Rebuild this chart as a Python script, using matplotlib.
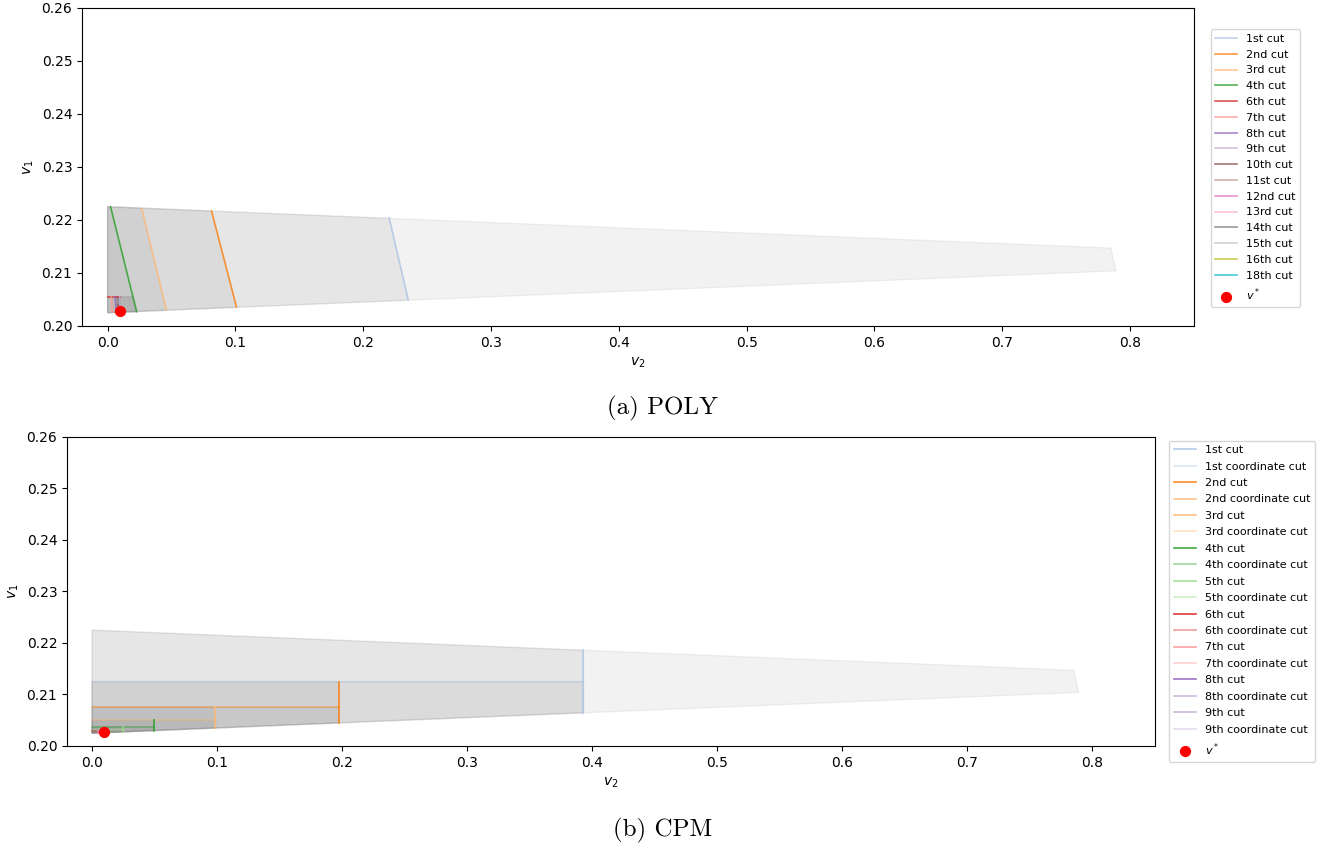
import numpy as np
import matplotlib
matplotlib.use("Agg")
import matplotlib.pyplot as plt

# outer feasible region (same in both panels)
outer_x = [0.0, 0.785, 0.789, 0.0]
outer_y = [0.2225, 0.2147, 0.2104, 0.2025]

v_star = (0.0096, 0.2028)

# POLY cuts: label, segment end points, tab20 index
poly_labels = ["1st cut", "2nd cut", "3rd cut", "4th cut", "6th cut", "7th cut",
               "8th cut", "9th cut", "10th cut", "11st cut", "12nd cut", "13rd cut",
               "14th cut", "15th cut", "16th cut", "18th cut"]
poly_color = [1, 2, 3, 4, 6, 7, 8, 9, 10, 11, 12, 13, 14, 15, 16, 18]
poly_x0 = [0.2203, 0.0813, 0.0266, 0.0023, 0.0, 0.0030, 0.0060, 0.0094,
           0.0080, 0.0085, 0.0100, 0.0088, 0.0092, 0.0105, 0.0098, 0.0095]
poly_y0 = [0.2204, 0.2217, 0.2222, 0.2225, 0.2055, 0.2055, 0.2055, 0.2055,
           0.2040, 0.2036, 0.2035, 0.2033, 0.2032, 0.2031, 0.2030, 0.2029]
poly_x1 = [0.2352, 0.1008, 0.0460, 0.0227, 0.0095, 0.0036, 0.0066, 0.0097,
           0.0086, 0.0090, 0.0104, 0.0092, 0.0095, 0.0107, 0.0100, 0.0097]
poly_y1 = [0.2049, 0.2036, 0.2030, 0.2027, 0.2055, 0.2026, 0.2027, 0.2027,
           0.2027, 0.2027, 0.2027, 0.2027, 0.2027, 0.2027, 0.2027, 0.2027]

# CPM cuts (cut / coordinate cut pairs)
cpm_labels = ["1st cut", "1st coordinate cut", "2nd cut", "2nd coordinate cut",
              "3rd cut", "3rd coordinate cut", "4th cut", "4th coordinate cut",
              "5th cut", "5th coordinate cut", "6th cut", "6th coordinate cut",
              "7th cut", "7th coordinate cut", "8th cut", "8th coordinate cut",
              "9th cut", "9th coordinate cut"]
cpm_color = [1, 1, 2, 2, 3, 3, 4, 4, 5, 5, 6, 6, 7, 7, 8, 8, 9, 9]
cpm_x0 = [0.393, 0.0, 0.1975, 0.0, 0.0987, 0.0, 0.0494, 0.0, 0.0247, 0.0,
          0.0123, 0.0, 0.0050, 0.0050, 0.0110, 0.0050, 0.0085, 0.0085]
cpm_y0 = [0.2186, 0.2125, 0.2125, 0.2075, 0.2075, 0.2050, 0.2050, 0.2037,
          0.2037, 0.2031, 0.2031, 0.2029, 0.2029, 0.2028, 0.2028, 0.20275,
          0.20275, 0.20272]
cpm_x1 = [0.393, 0.393, 0.1975, 0.1975, 0.0987, 0.0987, 0.0494, 0.0494,
          0.0247, 0.0247, 0.0123, 0.0123, 0.0050, 0.0110, 0.0110, 0.0110,
          0.0085, 0.0110]
cpm_y1 = [0.2065, 0.2125, 0.2045, 0.2075, 0.2035, 0.2050, 0.2030, 0.2037,
          0.20275, 0.2031, 0.20262, 0.2029, 0.20255, 0.2028, 0.20262, 0.20275,
          0.20259, 0.20272]
cpm_alpha = [0.9, 0.45] * 9


def clip(px, py, x0, y0, x1, y1, keep):
    # keep the side of the line (x0,y0)-(x1,y1) that contains point keep
    def side(x, y):
        return (x1 - x0) * (y - y0) - (y1 - y0) * (x - x0)
    s_ref = np.sign(side(*keep))
    out_x, out_y = [], []
    n = len(px)
    for i in range(n):
        ax_, ay_ = px[i], py[i]
        bx, by = px[(i + 1) % n], py[(i + 1) % n]
        sa, sb = side(ax_, ay_) * s_ref, side(bx, by) * s_ref
        if sa >= 0:
            out_x.append(ax_)
            out_y.append(ay_)
        if sa * sb < 0:
            t = sa / (sa - sb)
            out_x.append(ax_ + t * (bx - ax_))
            out_y.append(ay_ + t * (by - ay_))
    return out_x, out_y


def draw(ax, labels, colors, x0, y0, x1, y1, alphas):
    cmap = plt.get_cmap("tab20")
    rx, ry = list(outer_x), list(outer_y)
    ax.fill(rx, ry, color="gray", alpha=0.1)
    for i in range(len(labels)):
        rx, ry = clip(rx, ry, x0[i], y0[i], x1[i], y1[i], v_star)
        if len(rx) > 2:
            ax.fill(rx, ry, color="gray", alpha=0.1)
    for i in range(len(labels)):
        ax.plot([x0[i], x1[i]], [y0[i], y1[i]], color=cmap(colors[i]),
                alpha=alphas[i], lw=1.2, label=labels[i])
    ax.scatter([v_star[0]], [v_star[1]], color="red", s=50, zorder=5, label=r"$v^*$")
    ax.set_xlim(-0.02, 0.85)
    ax.set_ylim(0.20, 0.26)
    ax.set_xlabel(r"$v_2$")
    ax.set_ylabel(r"$v_1$")


fig = plt.figure(figsize=(13.3, 8.48), dpi=100)

ax1 = fig.add_axes([0.0617, 0.6156, 0.836, 0.375])
draw(ax1, poly_labels, poly_color, poly_x0, poly_y0, poly_x1, poly_y1,
     [0.8] * len(poly_labels))
ax1.legend(loc="upper left", bbox_to_anchor=(1.010, 0.950), fontsize=8,
           labelspacing=0.52)

ax2 = fig.add_axes([0.0504, 0.1203, 0.818, 0.3644])
draw(ax2, cpm_labels, cpm_color, cpm_x0, cpm_y0, cpm_x1, cpm_y1, cpm_alpha)
ax2.legend(loc="upper left", bbox_to_anchor=(1.008, 1.006), fontsize=8,
           labelspacing=0.58)

fig.text(0.498, 1 - 408 / 848, "(a) POLY", ha="center", va="center",
         fontfamily="cmr10", fontsize=18)
fig.text(0.498, 1 - 830 / 848, "(b) CPM", ha="center", va="center",
         fontfamily="cmr10", fontsize=18)

fig.savefig("out.png", dpi=100)
